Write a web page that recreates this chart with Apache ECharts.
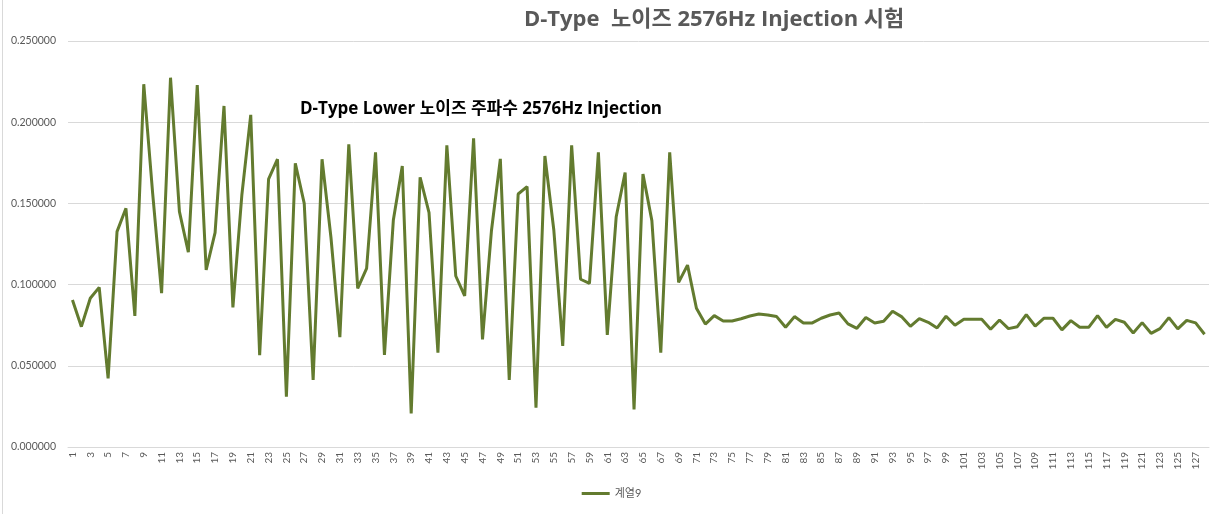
<!DOCTYPE html>
<html>
<head>
<meta charset="utf-8">
<script src="https://cdn.jsdelivr.net/npm/echarts@6/dist/echarts.min.js"></script>
<style>
html,body{margin:0;padding:0;background:#fff;}
#chart{width:1223px;height:514px;}
</style>
</head>
<body>
<div id="chart"></div>
<script>
const categories = Array.from({length: 128}, (_, i) => String(i + 1));
const seriesName = '계열9';
const values = [
  0.0905, 0.0741, 0.0916, 0.0983, 0.0423, 0.1326, 0.1470, 0.0807, 0.2234, 0.1560,
  0.0947, 0.2274, 0.1449, 0.1199, 0.2229, 0.1090, 0.1320, 0.2100, 0.0860, 0.1550,
  0.2045, 0.0565, 0.1649, 0.1772, 0.0310, 0.1747, 0.1500, 0.0413, 0.1772, 0.1290,
  0.0676, 0.1864, 0.0977, 0.1100, 0.1815, 0.0567, 0.1398, 0.1730, 0.0207, 0.1661,
  0.1443, 0.0581, 0.1858, 0.1053, 0.0930, 0.1900, 0.0663, 0.1330, 0.1774, 0.0413,
  0.1558, 0.1603, 0.0242, 0.1792, 0.1336, 0.0622, 0.1858, 0.1033, 0.1008, 0.1815,
  0.0690, 0.1418, 0.1690, 0.0232, 0.1681, 0.1394, 0.0581, 0.1815, 0.1014, 0.1120,
  0.0854, 0.0757, 0.0809, 0.0776, 0.0776, 0.0790, 0.0807, 0.0819, 0.0813, 0.0803,
  0.0737, 0.0803, 0.0764, 0.0764, 0.0793, 0.0813, 0.0825, 0.0758, 0.0731, 0.0797,
  0.0764, 0.0774, 0.0836, 0.0803, 0.0743, 0.0790, 0.0768, 0.0733, 0.0805, 0.0750,
  0.0786, 0.0786, 0.0786, 0.0725, 0.0782, 0.0729, 0.0741, 0.0815, 0.0745, 0.0793,
  0.0793, 0.0721, 0.0778, 0.0737, 0.0737, 0.0809, 0.0737, 0.0786, 0.0768, 0.0702,
  0.0766, 0.0700, 0.0729, 0.0797, 0.0727, 0.0780, 0.0764, 0.0694
];
const titleText = 'D-Type  노이즈 2576Hz Injection 시험';
const annotationText = 'D-Type Lower 노이즈 주파수 2576Hz Injection';

const font = 'Lato, "Noto Sans CJK KR", sans-serif';
const headFont = '"Open Sans", "Noto Sans CJK KR", sans-serif';
const chart = echarts.init(document.getElementById('chart'), null, {renderer: 'canvas'});
chart.setOption({
  animation: false,
  backgroundColor: '#ffffff',
  grid: {left: 68, right: 14, top: 41, bottom: 67, containLabel: false},
  xAxis: {
    type: 'category',
    data: categories,
    boundaryGap: true,
    axisLine: {show: true, lineStyle: {color: '#d9d9d9', width: 1}},
    axisTick: {show: false},
    axisLabel: {
      interval: 1, rotate: 90, color: '#595959', fontSize: 10,
      fontFamily: font, margin: 5
    }
  },
  yAxis: {
    type: 'value',
    min: 0, max: 0.25, interval: 0.05,
    axisLine: {show: false},
    axisTick: {show: false},
    splitLine: {lineStyle: {color: '#d9d9d9', width: 1}},
    axisLabel: {
      color: '#595959', fontSize: 10.5, fontFamily: font, margin: 12,
      formatter: v => v.toFixed(6)
    }
  },
  legend: {
    bottom: 10, left: 'center', data: [seriesName],
    itemWidth: 28, itemHeight: 3, icon: 'rect', itemGap: 5,
    textStyle: {color: '#595959', fontSize: 11, fontFamily: font}
  },
  series: [{
    name: seriesName,
    type: 'line',
    data: values,
    showSymbol: false,
    symbol: 'none',
    lineStyle: {color: '#637b2f', width: 3},
    itemStyle: {color: '#637b2f'}
  }],
  graphic: [
    {type: 'text', left: 524, top: 9,
      style: {text: titleText, fill: '#595959', font: 'bold 22px ' + headFont}},
    {type: 'text', left: 300, top: 101,
      style: {text: annotationText, fill: '#000000', font: 'bold 17px ' + headFont}},
    {type: 'line', shape: {x1: 2.5, y1: 0, x2: 2.5, y2: 514},
      style: {stroke: '#d9d9d9', lineWidth: 1}}
  ]
});
</script>
</body>
</html>
